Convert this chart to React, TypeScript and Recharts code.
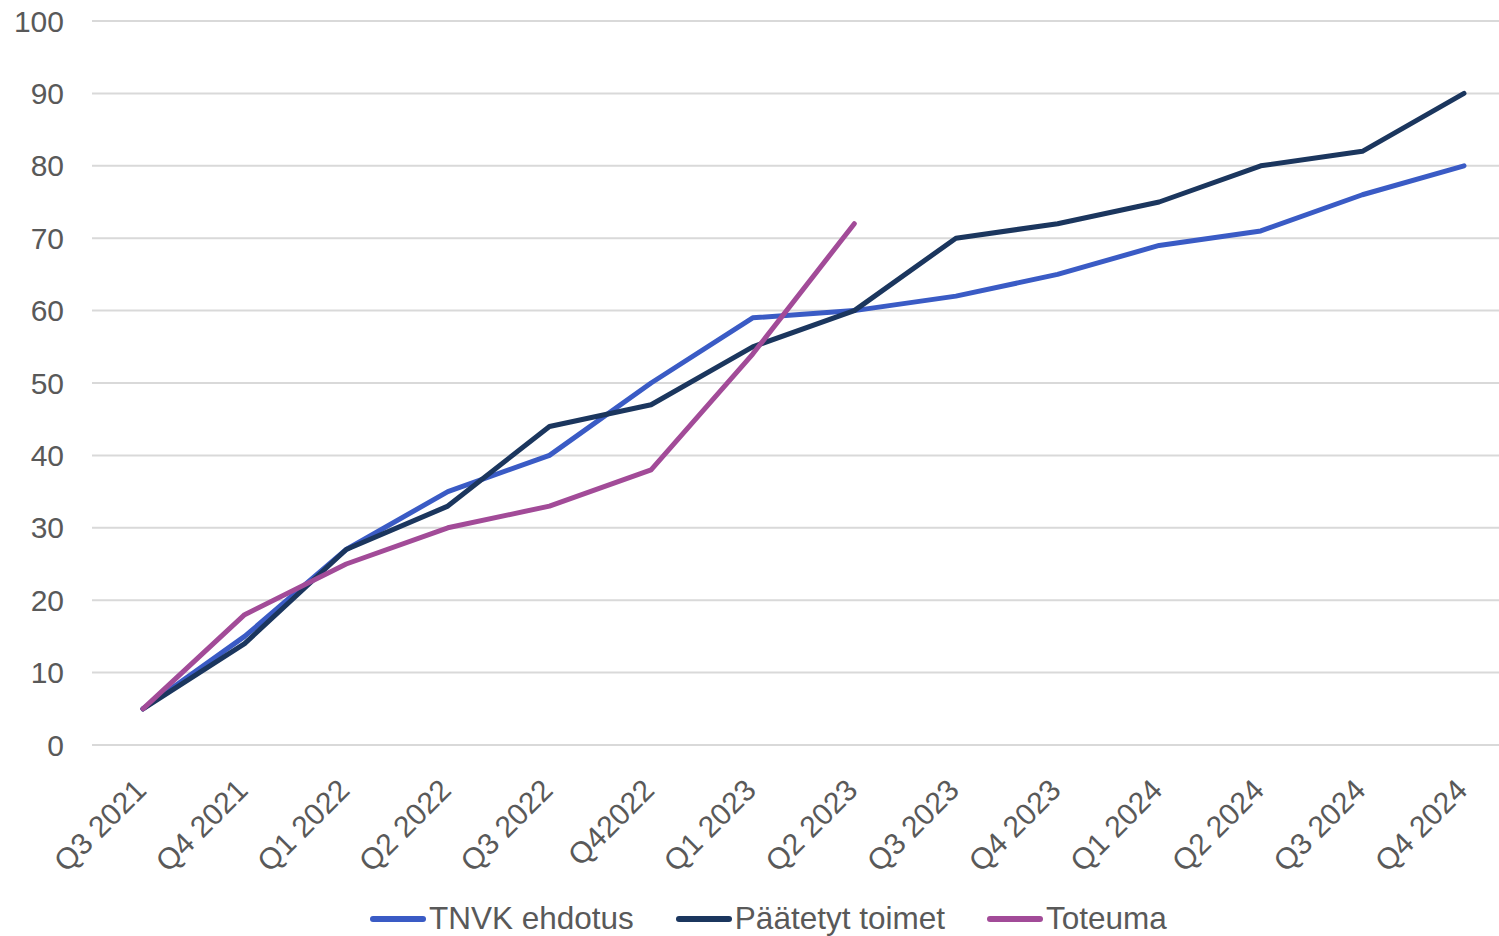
import React from 'react';
import { LineChart, Line, XAxis, YAxis, CartesianGrid } from 'recharts';

const quarters = [
  'Q3 2021', 'Q4 2021', 'Q1 2022', 'Q2 2022', 'Q3 2022', 'Q42022', 'Q1 2023',
  'Q2 2023', 'Q3 2023', 'Q4 2023', 'Q1 2024', 'Q2 2024', 'Q3 2024', 'Q4 2024',
];
const tnvkEhdotus = [5, 15, 27, 35, 40, 50, 59, 60, 62, 65, 69, 71, 76, 80];
const paatetytToimet = [5, 14, 27, 33, 44, 47, 55, 60, 70, 72, 75, 80, 82, 90];
const toteuma: (number | null)[] = [5, 18, 25, 30, 33, 38, 54, 72, null, null, null, null, null, null];
const yTicks = [0, 10, 20, 30, 40, 50, 60, 70, 80, 90, 100];

const series = [
  { key: 'tnvk', name: 'TNVK ehdotus', color: '#3A5BC5' },
  { key: 'paatetyt', name: 'Päätetyt toimet', color: '#1B365E' },
  { key: 'toteuma', name: 'Toteuma', color: '#A24B98' },
];

const data = quarters.map((q, i) => ({
  quarter: q,
  tnvk: tnvkEhdotus[i],
  paatetyt: paatetytToimet[i],
  toteuma: toteuma[i],
}));

const FONT = '"Liberation Sans", Arial, sans-serif';
const TEXT = '#595959';

const XTick = ({ x, y, payload }: any) => (
  <g transform={`translate(${x},${y})`}>
    <text
      x={5}
      y={39}
      textAnchor="end"
      fill={TEXT}
      fontSize={30}
      fontFamily={FONT}
      transform="rotate(-45, 5, 39)"
    >
      {payload.value}
    </text>
  </g>
);

export default function App() {
  return (
    <div style={{ position: 'absolute', left: 0, top: 0, width: 1499, height: 936, overflow: 'hidden', background: '#fff' }}>
      <LineChart
        width={1515}
        height={936}
        data={data}
        margin={{ top: 21, right: 0, left: 0, bottom: 0 }}
      >
        <CartesianGrid vertical={false} stroke="#D9D9D9" strokeWidth={2} />
        <XAxis
          dataKey="quarter"
          height={191}
          axisLine={false}
          tickLine={false}
          interval={0}
          padding={{ left: 51, right: 51 }}
          tick={<XTick />}
        />
        <YAxis
          width={92}
          domain={[0, 100]}
          ticks={yTicks}
          axisLine={false}
          tickLine={false}
          tickMargin={22}
          tick={{ fill: TEXT, fontSize: 30, fontFamily: FONT }}
        />
        {series.map((s) => (
          <Line
            key={s.key}
            type="linear"
            dataKey={s.key}
            name={s.name}
            stroke={s.color}
            strokeWidth={5}
            dot={false}
            activeDot={false}
            isAnimationActive={false}
            strokeLinecap="round"
            strokeLinejoin="round"
          />
        ))}
      </LineChart>
      <div
        style={{
          position: 'absolute',
          left: 370,
          top: 900,
          display: 'flex',
          alignItems: 'center',
          fontFamily: FONT,
          fontSize: 31.5,
          color: TEXT,
          whiteSpace: 'nowrap',
        }}
      >
        {series.map((s, i) => (
          <div key={s.key} style={{ display: 'flex', alignItems: 'center', marginRight: i < series.length - 1 ? 42 : 0 }}>
            <span style={{ display: 'inline-block', width: 56, height: 6, borderRadius: 3, background: s.color, marginRight: 3 }} />
            <span>{s.name}</span>
          </div>
        ))}
      </div>
    </div>
  );
}
